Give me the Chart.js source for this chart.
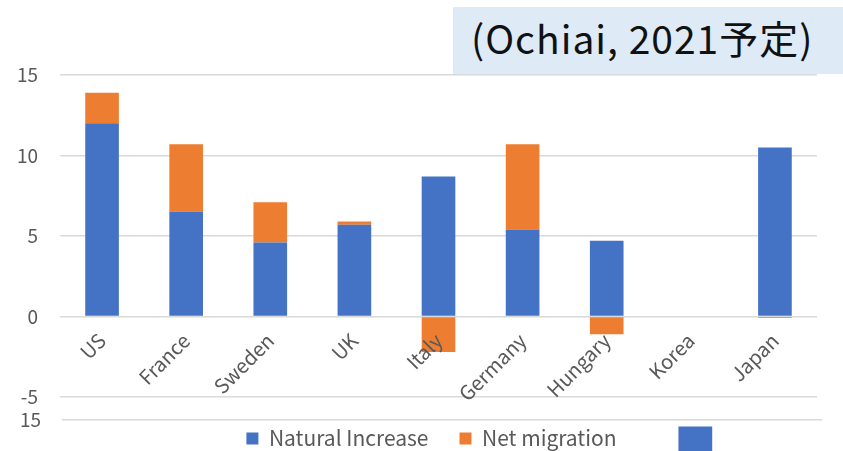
<!DOCTYPE html>
<html>
<head>
<meta charset="utf-8">
<script src="https://cdn.jsdelivr.net/npm/chart.js@4/dist/chart.umd.min.js"></script>
<style>
  html, body { margin: 0; padding: 0; background: #ffffff; }
  body { width: 843px; height: 451px; overflow: hidden; position: relative; }
  #lowerWrap { position: absolute; left: 0; top: 387px; width: 843px; height: 275px; z-index: 1; }
  #mainWrap { position: absolute; left: 0; top: 0; width: 843px; height: 451px; z-index: 2; }
  #titleBox {
    position: absolute; left: 453px; top: 7px; width: 390px; height: 67px; z-index: 3;
    background: #deebf7; box-sizing: border-box; padding-left: 18px;
    font-family: "Noto Sans CJK JP", "Noto Sans", sans-serif; font-size: 39px; letter-spacing: 1px; color: #111;
    line-height: 60px; white-space: nowrap;
  }
</style>
</head>
<body>
<div id="lowerWrap"><canvas id="lower"></canvas></div>
<div id="mainWrap"><canvas id="main"></canvas></div>
<div id="titleBox">(Ochiai, 2021予定)</div>
<script>
// ---- data ----
const categories = ["US", "France", "Sweden", "UK", "Italy", "Germany", "Hungary", "Korea", "Japan"];
const naturalIncrease = [12.0, 6.5, 4.6, 5.7, 8.7, 5.4, 4.7, 0, 10.5];
const netMigration = [1.9, 4.2, 2.5, 0.2, -2.2, 5.3, -1.1, 0, -0.1];
const seriesNames = ["Natural Increase", "Net migration"];
const yTicks = [-5, 0, 5, 10, 15];
// partially visible chart below (only its top edge shows)
const lowerSeries = [null, null, null, null, null, null, null, 14.5, null];
const lowerTicks = [0, 5, 10, 15];

const FONT = '"Noto Sans CJK JP", "Noto Sans", sans-serif';
const GRAY = '#595959';
const GRID = '#d9d9d9';

const legendShift = {
  id: 'legendShift',
  afterLayout(chart) {
    const lg = chart.legend;
    if (lg) { lg.left += 23; lg.right += 23; }
  }
};

new Chart(document.getElementById('main'), {
  type: 'bar',
  data: {
    labels: categories,
    datasets: [
      { label: seriesNames[0], data: naturalIncrease, backgroundColor: '#4472c4' },
      { label: seriesNames[1], data: netMigration, backgroundColor: '#ed7d31' }
    ]
  },
  plugins: [legendShift],
  options: {
    responsive: true, maintainAspectRatio: false, animation: false,
    layout: { padding: { left: 0, right: 26, top: 75, bottom: -8 } },
    datasets: { bar: { categoryPercentage: 1, barPercentage: 0.4 } },
    plugins: {
      tooltip: { enabled: false },
      legend: {
        position: 'bottom',
        labels: { boxWidth: 12, boxHeight: 12, padding: 31, color: GRAY, font: { family: FONT, size: 21 } }
      }
    },
    scales: {
      x: {
        stacked: true,
        position: { y: 0 },
        grid: { display: false },
        border: { display: false },
        ticks: { z: 1, color: GRAY, font: { family: FONT, size: 20 }, maxRotation: 45, minRotation: 45, padding: 4, autoSkip: false }
      },
      y: {
        stacked: true,
        min: yTicks[0], max: yTicks[yTicks.length - 1],
        afterBuildTicks: (s) => { s.ticks = yTicks.map(v => ({ value: v })); },
        afterFit: (s) => { s.width = 60; },
        grid: { color: GRID, lineWidth: 1.5, drawTicks: false },
        border: { display: false },
        ticks: { color: GRAY, font: { family: FONT, size: 19 }, padding: 22 }
      }
    }
  }
});

new Chart(document.getElementById('lower'), {
  type: 'bar',
  data: {
    labels: categories,
    datasets: [ { label: 'lower', data: lowerSeries, backgroundColor: '#4472c4' } ]
  },
  options: {
    responsive: true, maintainAspectRatio: false, animation: false,
    layout: { padding: { left: 0, right: 21, top: 20, bottom: 0 } },
    datasets: { bar: { categoryPercentage: 1, barPercentage: 0.4 } },
    plugins: { tooltip: { enabled: false }, legend: { display: false } },
    scales: {
      x: { display: false },
      y: {
        min: lowerTicks[0], max: lowerTicks[lowerTicks.length - 1],
        afterBuildTicks: (s) => { s.ticks = lowerTicks.map(v => ({ value: v })); },
        afterFit: (s) => { s.width = 62; },
        grid: { color: GRID, lineWidth: 1.5, drawTicks: false },
        border: { display: false },
        ticks: { color: GRAY, font: { family: FONT, size: 19 }, padding: 21 }
      }
    }
  }
});
</script>
</body>
</html>
